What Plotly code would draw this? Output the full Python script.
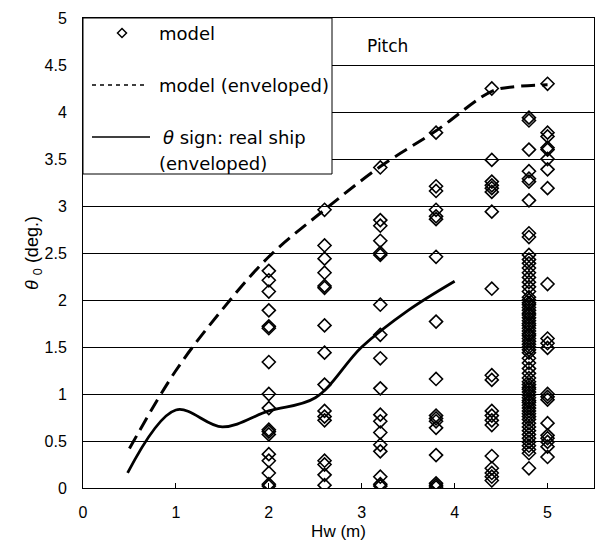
import plotly.graph_objects as go

# Wave height levels (m) at which model tests were run
HW_LEVELS = [2.0, 2.6, 3.2, 3.8, 4.4, 4.8, 5.0]

# Pitch amplitude (deg.) measured on the model at each wave height
THETA_HW_2_0 = [2.31, 2.21, 2.09, 1.89, 1.72, 1.70, 1.34, 1.00, 0.85, 0.62, 0.60,
                0.57, 0.36, 0.29, 0.16, 0.04, 0.02]
THETA_HW_2_6 = [2.96, 2.58, 2.44, 2.29, 2.15, 2.13, 1.73, 1.44, 1.10, 0.82, 0.76,
                0.72, 0.29, 0.25, 0.14, 0.03]
THETA_HW_3_2 = [3.41, 2.85, 2.79, 2.63, 2.50, 2.48, 1.95, 1.63, 1.38, 1.06, 0.78,
                0.71, 0.59, 0.46, 0.39, 0.12, 0.04, 0.02]
THETA_HW_3_8 = [3.78, 3.21, 3.16, 2.96, 2.89, 2.86, 2.46, 1.77, 1.16, 0.77, 0.74,
                0.71, 0.64, 0.35, 0.05, 0.03, 0.01]
THETA_HW_4_4 = [4.25, 3.49, 3.26, 3.22, 3.19, 3.15, 2.94, 2.12, 1.20, 1.15, 0.82,
                0.77, 0.72, 0.67, 0.34, 0.21, 0.16, 0.12, 0.08]
THETA_HW_4_8 = [3.94, 3.91, 3.60, 3.37, 3.29, 3.26, 3.06, 2.71, 2.67,
                2.48, 2.43, 2.39, 2.34, 2.29, 2.24, 2.19, 2.14, 2.09,
                2.03, 2.00, 1.97, 1.95, 1.92, 1.89, 1.86, 1.84, 1.81, 1.78, 1.75,
                1.73, 1.70, 1.67, 1.64, 1.62, 1.59, 1.56, 1.53, 1.50, 1.47, 1.44,
                1.38, 1.33, 1.27, 1.22, 1.17,
                1.13, 1.10, 1.07, 1.05, 1.02, 0.99, 0.96, 0.93, 0.91, 0.88, 0.85,
                0.82, 0.79, 0.76, 0.73,
                0.69, 0.65, 0.61, 0.57, 0.53, 0.49, 0.45, 0.41, 0.37,
                0.21]
THETA_HW_5_0 = [4.30, 3.78, 3.74, 3.62, 3.60, 3.50, 3.39, 3.19, 2.17, 1.59, 1.54,
                1.49, 1.00, 0.97, 0.94, 0.69, 0.56, 0.53, 0.49, 0.44, 0.33]

MODEL_COLUMNS = [THETA_HW_2_0, THETA_HW_2_6, THETA_HW_3_2, THETA_HW_3_8,
                 THETA_HW_4_4, THETA_HW_4_8, THETA_HW_5_0]

# Envelope of the model results
ENV_MODEL_HW = [0.5, 1.0, 1.5, 2.0, 2.6, 3.2, 3.8, 4.4, 4.65, 5.0]
ENV_MODEL_THETA = [0.42, 1.25, 1.90, 2.46, 2.96, 3.42, 3.80, 4.22, 4.27, 4.29]

# Envelope of the full-scale (real ship) measurements
ENV_SHIP_HW = [0.48, 1.0, 1.5, 2.0, 2.5, 3.0, 3.5, 4.0]
ENV_SHIP_THETA = [0.16, 0.83, 0.65, 0.82, 0.96, 1.50, 1.89, 2.20]

X_TICKS = [0, 1, 2, 3, 4, 5]
Y_TICKS = [0, 0.5, 1, 1.5, 2, 2.5, 3, 3.5, 4, 4.5, 5]

FONT = "Liberation Sans, Arial, sans-serif"
LEGEND_FONT = "DejaVu Sans, sans-serif"

model_x = []
model_y = []
for hw, col in zip(HW_LEVELS, MODEL_COLUMNS):
    model_x.extend([hw] * len(col))
    model_y.extend(col)

fig = go.Figure()

fig.add_trace(go.Scatter(
    x=ENV_MODEL_HW, y=ENV_MODEL_THETA, mode="lines",
    line=dict(color="black", width=3, dash="14px,7px", shape="spline", smoothing=1.0),
    name="model (enveloped)", showlegend=False, hoverinfo="skip",
))
fig.add_trace(go.Scatter(
    x=ENV_SHIP_HW, y=ENV_SHIP_THETA, mode="lines",
    line=dict(color="black", width=2.8, shape="spline", smoothing=1.0),
    name="θ sign: real ship (enveloped)", showlegend=False, hoverinfo="skip",
))
fig.add_trace(go.Scatter(
    x=model_x, y=model_y, mode="markers",
    marker=dict(symbol="diamond-open", size=10, color="black",
                line=dict(color="black", width=1.6)),
    name="model", showlegend=False,
))

# Legend box (drawn in paper coordinates, top-left of the plot area)
PW, PH = 511.0, 470.0  # plot area size in px


def px_x(p):
    return p / PW


def px_y(p):
    return 1 - p / PH


shapes = [
    dict(type="rect", xref="paper", yref="paper", x0=0, x1=px_x(249), y0=px_y(156), y1=1,
         fillcolor="white", line=dict(color="black", width=1), layer="above"),
    # diamond sample
    dict(type="path", xref="paper", yref="paper", layer="above",
         path=(f"M {px_x(39 - 4.5)} {px_y(15)} L {px_x(39)} {px_y(15 - 4.5)} "
               f"L {px_x(39 + 4.5)} {px_y(15)} L {px_x(39)} {px_y(15 + 4.5)} Z"),
         line=dict(color="black", width=1.5), fillcolor="white"),
    # dashed sample
    dict(type="line", xref="paper", yref="paper", layer="above",
         x0=px_x(9), x1=px_x(63), y0=px_y(67), y1=px_y(67),
         line=dict(color="black", width=1.5, dash="4px,4px")),
    # solid sample
    dict(type="line", xref="paper", yref="paper", layer="above",
         x0=px_x(9), x1=px_x(67), y0=px_y(119), y1=px_y(119),
         line=dict(color="black", width=1.5)),
]

annotations = [
    dict(xref="paper", yref="paper", x=px_x(74), y=px_y(15), text="model",
         showarrow=False, xanchor="left", yanchor="middle",
         font=dict(family=LEGEND_FONT, size=18, color="black")),
    dict(xref="paper", yref="paper", x=px_x(74), y=px_y(67), text="model (enveloped)",
         showarrow=False, xanchor="left", yanchor="middle",
         font=dict(family=LEGEND_FONT, size=18, color="black")),
    dict(xref="paper", yref="paper", x=px_x(78), y=px_y(119),
         text="<i>θ</i> sign: real ship",
         showarrow=False, xanchor="left", yanchor="middle",
         font=dict(family=LEGEND_FONT, size=18, color="black")),
    dict(xref="paper", yref="paper", x=px_x(74), y=px_y(145), text="(enveloped)",
         showarrow=False, xanchor="left", yanchor="middle",
         font=dict(family=LEGEND_FONT, size=18, color="black")),
    dict(xref="x", yref="y", x=3.03, y=4.70, text="Pitch",
         showarrow=False, xanchor="left", yanchor="middle",
         font=dict(family=LEGEND_FONT, size=17, color="black")),
]

fig.update_layout(
    width=595, height=547,
    margin=dict(l=83, r=1, t=18, b=59),
    paper_bgcolor="white", plot_bgcolor="white",
    font=dict(family=FONT, size=16, color="black"),
    shapes=shapes, annotations=annotations,
    showlegend=False,
)

fig.update_xaxes(
    range=[0, 5.5], tickvals=X_TICKS, ticktext=[str(v) for v in X_TICKS],
    ticks="inside", ticklen=5, tickcolor="black",
    showgrid=False, zeroline=False,
    showline=True, linecolor="black", linewidth=1, mirror=True,
    ticklabelstandoff=10,
    title=dict(text="Hw (m)", font=dict(family=FONT, size=17), standoff=4),
)
fig.update_yaxes(
    range=[0, 5], tickvals=Y_TICKS,
    showgrid=True, gridcolor="black", gridwidth=1, zeroline=False,
    showline=True, linecolor="black", linewidth=1, mirror=True,
    ticks="", ticklabelstandoff=12,
    title=dict(text="<i>θ</i> <sub>0</sub> (deg.)", font=dict(family=FONT, size=18), standoff=0),
)

fig.write_html("out.html")
